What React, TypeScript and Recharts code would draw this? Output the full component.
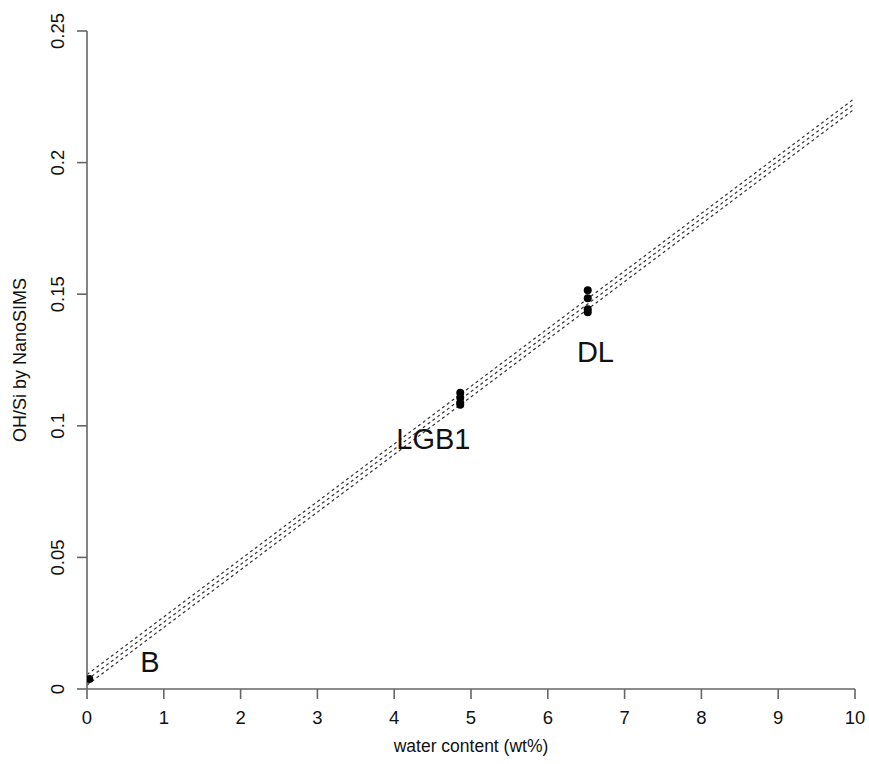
import React from "react";
import { ComposedChart, Line, Scatter, XAxis, YAxis, ReferenceDot } from "recharts";

// calibration line and its confidence band (end points)
const fitLine = [
    { x: 0, y: 0.0035 },
    { x: 10, y: 0.2225 },
];
const upperBand = [
    { x: 0, y: 0.0055 },
    { x: 10, y: 0.2245 },
];
const lowerBand = [
    { x: 0, y: 0.0015 },
    { x: 10, y: 0.2205 },
];

// measured standards
const standards = [
    { x: 0.03, y: 0.0038 },
    { x: 4.86, y: 0.1126 },
    { x: 4.86, y: 0.1107 },
    { x: 4.86, y: 0.1088 },
    { x: 4.86, y: 0.108 },
    { x: 6.52, y: 0.1515 },
    { x: 6.52, y: 0.1485 },
    { x: 6.52, y: 0.1443 },
    { x: 6.52, y: 0.1431 },
];

const sampleLabels = [
    { name: "B", x: 0.82, y: 0.0103 },
    { name: "LGB1", x: 4.51, y: 0.095 },
    { name: "DL", x: 6.62, y: 0.128 },
];

const xTicks = [0, 1, 2, 3, 4, 5, 6, 7, 8, 9, 10];
const yTicks = [0, 0.05, 0.1, 0.15, 0.2, 0.25];

const font = "'Liberation Sans', Arial, sans-serif";
const axisColor = "#666";

const YTick = (props: any) => {
    const { x, y, payload } = props;
    return (
        <text
            x={x}
            y={y}
            transform={`rotate(-90, ${x}, ${y})`}
            textAnchor="middle"
            fontSize={18.5}
            fontFamily={font}
            fill="#111"
        >
            {payload.value}
        </text>
    );
};

export default function App() {
    const dashed = { stroke: "#333", strokeWidth: 1.2, strokeDasharray: "3 3" };
    return (
        <div style={{ position: "absolute", left: 0, top: 0, background: "#fff" }}>
            <ComposedChart width={869} height={764} margin={{ top: 31, right: 14, bottom: 0, left: 0 }}>
                <XAxis
                    type="number"
                    dataKey="x"
                    domain={[0, 10]}
                    ticks={xTicks}
                    allowDataOverflow
                    height={75}
                    tickSize={10}
                    tickMargin={12}
                    stroke={axisColor}
                    strokeWidth={1.6}
                    tick={{ fill: "#111", fontSize: 18.5, fontFamily: font }}
                    label={{
                        content: ({ viewBox }: any) => (
                            <text
                                x={viewBox.x + viewBox.width / 2}
                                y={752}
                                textAnchor="middle"
                                fontSize={17.5}
                                fontFamily={font}
                                fill="#111"
                            >
                                water content (wt%)
                            </text>
                        ),
                    }}
                />
                <YAxis
                    type="number"
                    dataKey="y"
                    domain={[0, 0.25]}
                    ticks={yTicks}
                    allowDataOverflow
                    width={87}
                    tickSize={10}
                    tickMargin={13}
                    stroke={axisColor}
                    strokeWidth={1.6}
                    tick={<YTick />}
                    label={{
                        content: ({ viewBox }: any) => {
                            const cy = viewBox.y + viewBox.height / 2;
                            return (
                                <text
                                    x={26}
                                    y={cy}
                                    transform={`rotate(-90, 26, ${cy})`}
                                    textAnchor="middle"
                                    fontSize={18}
                                    fontFamily={font}
                                    fill="#111"
                                >
                                    OH/Si by NanoSIMS
                                </text>
                            );
                        },
                    }}
                />
                <Line data={upperBand} dataKey="y" dot={false} {...dashed} isAnimationActive={false} />
                <Line data={fitLine} dataKey="y" dot={false} {...dashed} isAnimationActive={false} />
                <Line data={lowerBand} dataKey="y" dot={false} {...dashed} isAnimationActive={false} />
                <Scatter data={standards} dataKey="y" fill="#000" isAnimationActive={false}
                    shape={(p: any) => <circle cx={p.cx} cy={p.cy} r={4} fill="#000" />} />
                {sampleLabels.map((s) => (
                    <ReferenceDot
                        key={s.name}
                        x={s.x}
                        y={s.y}
                        r={0}
                        stroke="none"
                        fill="none"
                        label={{ value: s.name, position: "center", fontSize: 29, fontFamily: font, fill: "#111" }}
                    />
                ))}
            </ComposedChart>
        </div>
    );
}
